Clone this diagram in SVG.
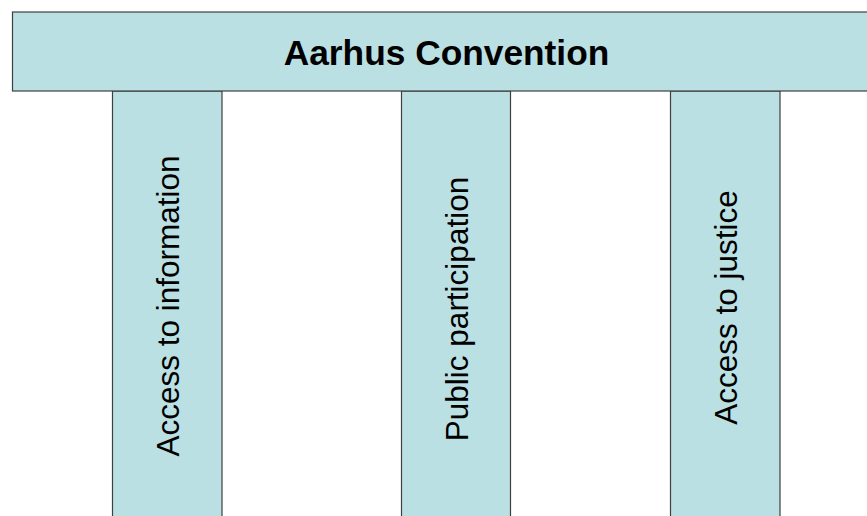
<svg xmlns="http://www.w3.org/2000/svg" width="867" height="516" viewBox="0 0 867 516">
  <style>
    .box { fill: #BBE0E3; stroke: #3f3f3f; stroke-width: 1.2; }
    .title { font-family: "Liberation Sans", Arial, sans-serif; font-weight: bold; font-size: 35.3px; fill: #000; text-anchor: middle; }
    .label { font-family: "Liberation Sans", Arial, sans-serif; font-size: 31.5px; fill: #000; text-anchor: middle; }
  </style>
  <rect width="867" height="516" fill="#ffffff"/>
  <g id="pillar-information">
    <rect class="box" x="112.5" y="91" width="109.5" height="440"/>
    <text class="label" x="179" y="306" transform="rotate(-90 179 306)">Access to information</text>
  </g>
  <g id="pillar-participation">
    <rect class="box" x="401.5" y="91" width="109" height="440"/>
    <text class="label" x="468" y="309" transform="rotate(-90 468 309)">Public participation</text>
  </g>
  <g id="pillar-justice">
    <rect class="box" x="670.5" y="91" width="109.5" height="440"/>
    <text class="label" x="737" y="307.5" transform="rotate(-90 737 307.5)">Access to justice</text>
  </g>
  <g id="roof">
    <rect class="box" x="12.5" y="12" width="870" height="79"/>
    <text class="title" x="446.5" y="64.5">Aarhus Convention</text>
  </g>
  <g id="connectors"></g>
</svg>
